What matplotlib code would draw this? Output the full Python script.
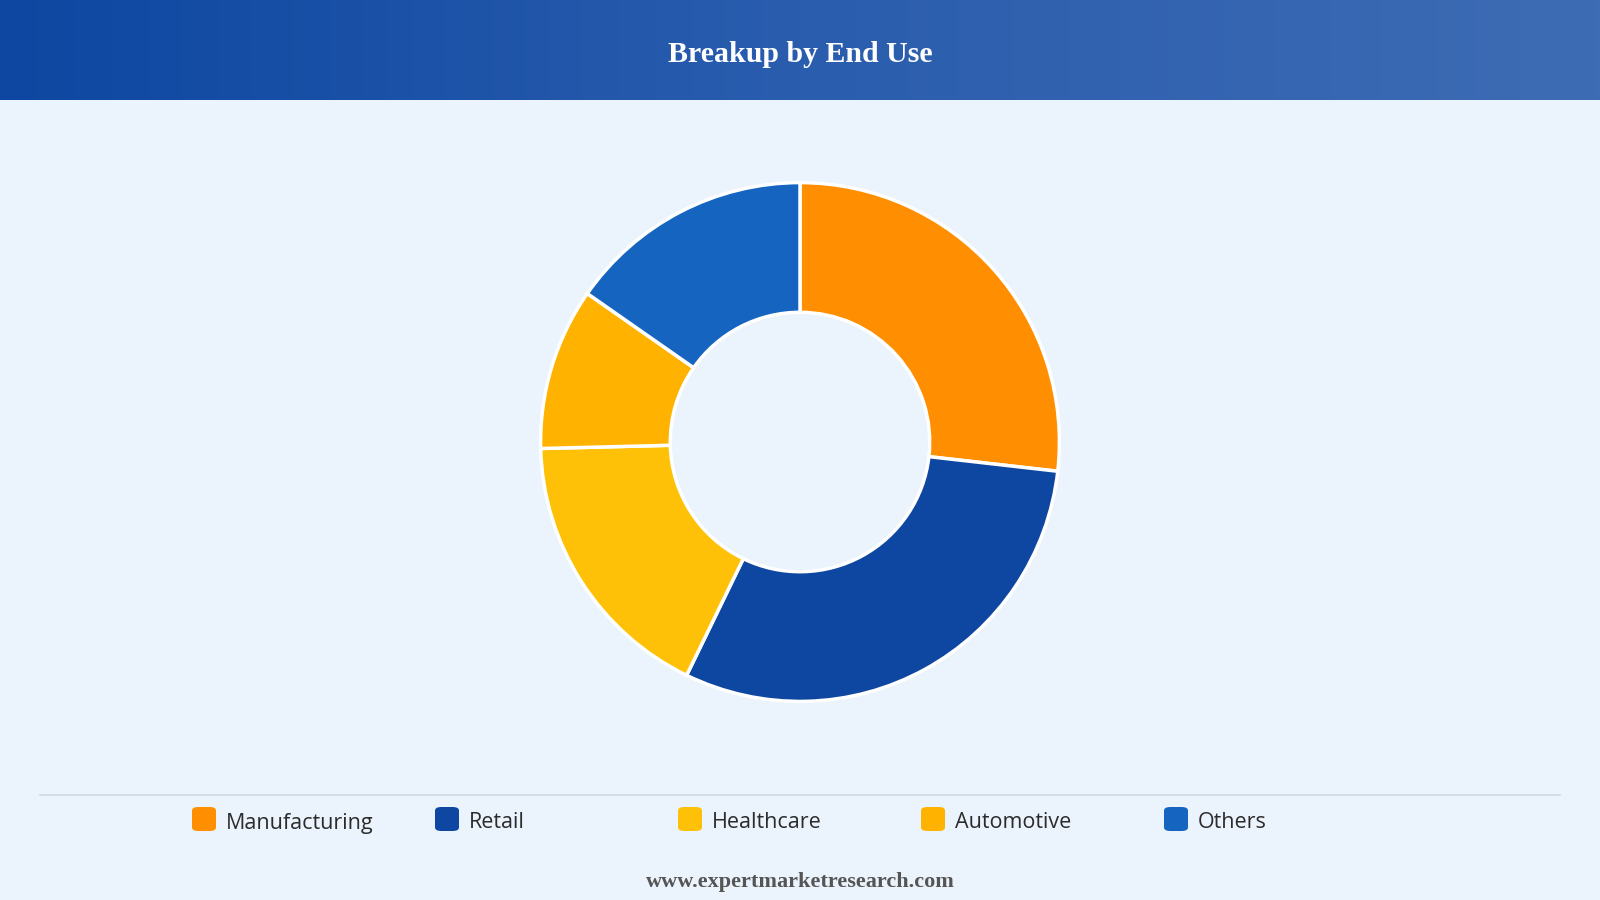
import numpy as np
import matplotlib
matplotlib.use("Agg")
import matplotlib.pyplot as plt
from matplotlib.colors import LinearSegmentedColormap
from matplotlib.patches import FancyBboxPatch

labels = ["Manufacturing", "Retail", "Healthcare", "Automotive", "Others"]
shares = [26.8, 30.4, 17.4, 10.1, 15.3]
colors = ["#FF8F00", "#0D47A1", "#FFC107", "#FFB300", "#1565C0"]

title = "Breakup by End Use"
footer = "www.expertmarketresearch.com"

W, H = 1600, 900
bg = "#EBF3FC"

fig = plt.figure(figsize=(W / 100, H / 100), dpi=100)
fig.patch.set_facecolor(bg)

# header band with horizontal gradient
hdr = fig.add_axes([0, 1 - 100 / H, 1, 100 / H])
grad = LinearSegmentedColormap.from_list("hdr", ["#0D47A1", "#2A5DAE", "#3E6CB4"])
hdr.imshow(np.linspace(0, 1, 256)[None, :], aspect="auto", cmap=grad,
           extent=[0, 1, 0, 1])
hdr.set_axis_off()
hdr.text(0.5, 0.46, title, ha="center", va="center", color="white",
         fontsize=21.5, fontweight="bold", family="Liberation Serif")

# donut
cx, cy, r = 800, 442, 262
ax = fig.add_axes([(cx - r) / W, (H - cy - r) / H, 2 * r / W, 2 * r / H])
ax.pie(shares, colors=colors, startangle=90, counterclock=False, radius=1,
       wedgeprops=dict(width=0.5, edgecolor="white", linewidth=2.5))
ax.set_xlim(-1.01, 1.01)
ax.set_ylim(-1.01, 1.01)
ax.set_aspect("equal")
ax.set_axis_off()

# separator line above the legend
fig.add_artist(plt.Line2D([40 / W, 1560 / W], [1 - 795 / H, 1 - 795 / H],
                          color="#D3D7DD", linewidth=1.2))

# legend row
x0, step, y_leg, sq = 192, 243, 819, 24
for i, (lab, col) in enumerate(zip(labels, colors)):
    x = x0 + i * step
    fig.add_artist(FancyBboxPatch(
        (x / W, 1 - (y_leg + sq / 2) / H), sq / W, sq / H,
        boxstyle="round,pad=0,rounding_size=0.004",
        transform=fig.transFigure, facecolor=col, edgecolor="none"))
    fig.text((x + sq + 10) / W, 1 - (y_leg + 4) / H, lab, ha="left", va="center",
             fontsize=15.5, color="#2B2B2B", family="Open Sans")

fig.text(0.5, 1 - 882 / H, footer, ha="center", va="center", color="#555555",
         fontsize=16, fontweight="bold", family="Liberation Serif")

fig.savefig("out.png", dpi=100, facecolor=bg)
